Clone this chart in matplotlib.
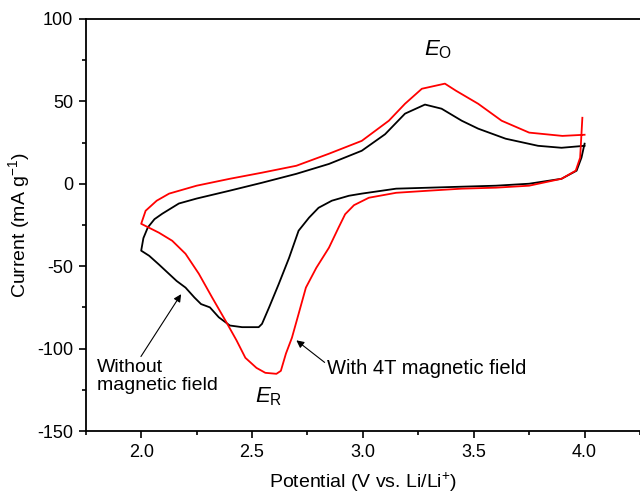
import matplotlib
matplotlib.use("Agg")
import matplotlib.pyplot as plt
from matplotlib.ticker import MultipleLocator

plt.rcParams["font.family"] = ["Liberation Sans", "DejaVu Sans"]
plt.rcParams["mathtext.fontset"] = "custom"
plt.rcParams["mathtext.rm"] = "Liberation Sans"
plt.rcParams["mathtext.it"] = "Liberation Sans:italic"
plt.rcParams["axes.unicode_minus"] = False

# without magnetic field: cathodic scan (4.0 -> 2.0), then anodic (2.0 -> 4.0)
black_cath_v = [4.0, 3.986, 3.964, 3.896, 3.75, 3.60, 3.446, 3.30, 3.15, 2.995,
                2.937, 2.86, 2.80, 2.757, 2.71, 2.667, 2.62, 2.577, 2.545, 2.53,
                2.455, 2.40, 2.35, 2.31, 2.27, 2.24, 2.20, 2.16, 2.12, 2.08,
                2.036, 2.0]
black_cath_i = [24.3, 15.8, 7.9, 3, 0, -1.2, -1.8, -2.4, -3, -6,
                -7.3, -10.3, -14.6, -20.6, -28.5, -45, -61, -75, -85, -87,
                -87, -86, -81, -75, -73, -69, -63, -59, -54, -49,
                -43.7, -40.6]
black_an_v = [2.0, 2.01, 2.03, 2.06, 2.095, 2.17, 2.25, 2.40, 2.545, 2.70,
              2.847, 2.995, 3.10, 3.19, 3.28, 3.355, 3.446, 3.52, 3.644, 3.79,
              3.896, 4.0]
black_an_i = [-40.6, -33, -26.5, -21.5, -18.2, -12, -9, -4.2, 0.6, 6,
              12, 20, 30, 42.5, 48, 45.5, 38.2, 33.4, 27.3, 23,
              21.8, 23]

# with 4T magnetic field
red_cath_v = [3.99, 3.98, 3.96, 3.896, 3.75, 3.60, 3.446, 3.30, 3.15, 3.027,
              2.96, 2.92, 2.89, 2.847, 2.79, 2.743, 2.71, 2.68, 2.653, 2.63,
              2.61, 2.56, 2.52, 2.47, 2.43, 2.38, 2.32, 2.26, 2.20, 2.14,
              2.08, 2.0]
red_cath_i = [40, 15.8, 7.9, 3, -1.2, -2.4, -3, -4.2, -5.5, -8.5,
              -13, -18.5, -26.7, -38.8, -51, -63, -79, -93.4, -103, -113.5,
              -115.3, -114.7, -111.7, -105.6, -95, -83, -69, -54.6, -42.5, -34.6,
              -29.7, -24.3]
red_an_v = [2.0, 2.02, 2.07, 2.126, 2.25, 2.40, 2.545, 2.70, 2.847, 2.995,
            3.117, 3.19, 3.266, 3.37, 3.42, 3.52, 3.626, 3.75, 3.90, 4.0]
red_an_i = [-24.3, -16.4, -10.3, -6, -1.2, 3, 6.7, 10.9, 18.2, 26,
            38.2, 48.5, 57.6, 60.7, 56.4, 48.5, 38.2, 31, 29, 29.7]

fig = plt.figure(figsize=(6.4, 4.96), dpi=100)
ax = fig.add_axes([0.134, 0.131, 0.866, 0.831])

ax.plot(black_cath_v + black_an_v, black_cath_i + black_an_i,
        color="black", linewidth=1.3)
ax.plot(red_cath_v + red_an_v, red_cath_i + red_an_i,
        color="#ff0000", linewidth=1.3)

ax.set_xlim(1.75, 4.25)
ax.set_ylim(-150, 100)
ax.xaxis.set_major_locator(MultipleLocator(0.5))
ax.xaxis.set_minor_locator(MultipleLocator(0.25))
ax.yaxis.set_major_locator(MultipleLocator(50))
ax.yaxis.set_minor_locator(MultipleLocator(25))
ax.tick_params(which="both", direction="out", top=False, right=False,
               width=1.2, labelsize=13, pad=4)
ax.tick_params(which="major", length=5)
ax.tick_params(which="minor", length=3)
ax.xaxis.set_major_formatter(plt.FormatStrFormatter("%.1f"))
for s in ax.spines.values():
    s.set_linewidth(1.3)
ax.spines["right"].set_visible(False)

ax.set_xlabel("Potential (V vs. Li/Li$^{+}$)", fontsize=14, labelpad=7)
ax.set_ylabel("Current (mA g$^{-1}$)", fontsize=14, labelpad=4)

ax.text(3.34, 81, r"$E_{\mathrm{O}}$", fontsize=16, ha="center", va="center")
ax.text(2.575, -129, r"$E_{\mathrm{R}}$", fontsize=16, ha="center", va="center")

ax.annotate("Without\nmagnetic field", xy=(2.18, -67), xytext=(1.80, -117),
            fontsize=14, ha="left", va="center", linespacing=1.05,
            arrowprops=dict(arrowstyle="-|>", color="black", lw=0.8,
                            shrinkA=0, shrinkB=0, mutation_scale=11,
                            relpos=(0.35, 1.0)))
ax.annotate("With 4T magnetic field", xy=(2.70, -95), xytext=(2.84, -112),
            fontsize=14.5, ha="left", va="center",
            arrowprops=dict(arrowstyle="-|>", color="black", lw=0.8,
                            shrinkA=0, shrinkB=0, mutation_scale=11,
                            relpos=(0.0, 0.7)))

fig.savefig("out.png", dpi=100)
